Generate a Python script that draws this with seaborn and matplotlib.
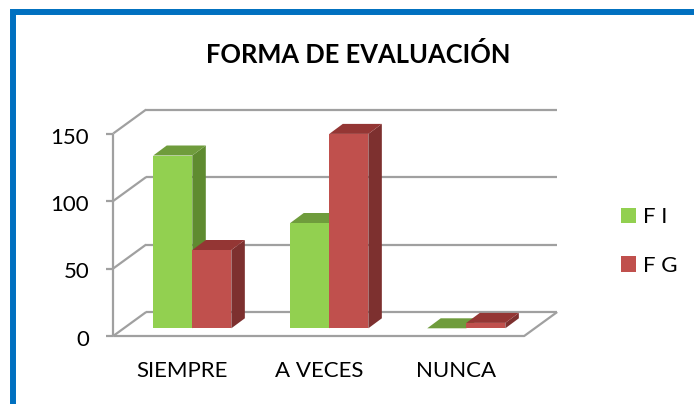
import pandas as pd
import matplotlib
matplotlib.use("Agg")
import matplotlib.pyplot as plt
import seaborn as sns
from matplotlib.patches import Polygon, Patch, Rectangle

# data
categories = ["SIEMPRE", "A VECES", "NUNCA"]
series = ["F I", "F G"]
fi_values = [128, 78, 0]
fg_values = [58, 144, 4]
y_ticks = [0, 50, 100, 150]
title = "FORMA DE EVALUACIÓN"

df = pd.DataFrame({
    "categoria": categories * 2,
    "serie": [series[0]] * len(categories) + [series[1]] * len(categories),
    "valor": fi_values + fg_values,
})

front_colors = {"F I": "#92D050", "F G": "#C0504D"}
side_colors = {"F I": "#5F8B30", "F G": "#7D302F"}
top_colors = {"F I": "#6F9C3C", "F G": "#943634"}
grid_color = "#A0A0A0"

sns.set_style("white")
plt.rcParams["font.family"] = ["Lato", "DejaVu Sans"]
plt.rcParams["text.color"] = "black"

W, H = 694, 404
fig = plt.figure(figsize=(W / 100, H / 100), dpi=100)
# axes box = plane of the bar front faces
ax = fig.add_axes([123.8 / W, (H - 328.3) / H, 411 / W, 202.5 / H])
sns.barplot(data=df, x="categoria", y="valor", hue="serie", order=categories,
            hue_order=series, palette=front_colors, width=0.57, gap=0,
            saturation=1, legend=False, ax=ax)
ax.set_xlim(-0.5, 2.5)
ax.set_ylim(0, 150)
ax.axis("off")

# pixel -> data helpers for the fake 3d offsets
px_x = 411 / 3
px_y = 202.5 / 150
def dx(p):
    return p / px_x
def dy(p):
    return p / px_y

front = (dx(-10.6), dy(-7.7))   # front wall plane
back = (dx(22.4), dy(16.3))     # back wall plane
x0, x1 = -0.5, 2.5

kw = dict(color=grid_color, lw=1.6, clip_on=False, zorder=1, solid_capstyle="butt")
for v in y_ticks:
    ax.plot([x0 + back[0], x1 + back[0]], [v + back[1]] * 2, **kw)
    ax.plot([x0 + front[0], x0 + back[0]], [v + front[1], v + back[1]], **kw)
    ax.plot([x0 + front[0] - dx(7), x0 + front[0]], [v + front[1]] * 2, **kw)
    ax.text(x0 + front[0] - dx(24), v + front[1] - dy(10), str(v),
            ha="right", va="baseline", fontsize=16)
ax.plot([x0 + front[0]] * 2, [front[1], y_ticks[-1] + front[1]], **kw)
ax.plot([x0 + front[0], x1 + front[0], x1 + back[0]],
        [front[1], front[1], back[1]], **kw)

# sides and tops of the bars
depth_x, depth_y = dx(13.5), dy(10)
for k, (container, name) in enumerate(zip(ax.containers, series)):
    for bar in container:
        xa = bar.get_x()
        xb = xa + bar.get_width()
        h = bar.get_height()
        bar.set_zorder(2 + k)
        bar.set_linewidth(0)
        bar.set_clip_on(False)
        side = Polygon([(xb, 0), (xb + depth_x, depth_y), (xb + depth_x, h + depth_y), (xb, h)],
                       closed=True, fc=side_colors[name], lw=0, zorder=2 + k, clip_on=False)
        top = Polygon([(xa, h), (xa + depth_x, h + depth_y), (xb + depth_x, h + depth_y), (xb, h)],
                      closed=True, fc=top_colors[name], lw=0, zorder=2 + k, clip_on=False)
        ax.add_patch(side)
        ax.add_patch(top)

for i, cat in enumerate(categories):
    ax.text(i + front[0], front[1] - dy(41), cat, ha="center", va="baseline", fontsize=16)

handles = [Patch(fc=front_colors[s], lw=0, label=s) for s in series]
fig.legend(handles=handles, loc="upper left", bbox_to_anchor=(621 / W, 1 - 207 / H),
           frameon=False, fontsize=16, handlelength=0.68, handleheight=0.68,
           handletextpad=0.3, labelspacing=1.3, borderpad=0, borderaxespad=0)

fig.text(358 / W, 1 - 63 / H, title, ha="center", va="baseline",
         fontsize=18.4, fontweight="bold")

# blue frame of the chart area
fig.add_artist(Rectangle((13 / W, -0.5), 2, (H - 12) / H + 0.5, transform=fig.transFigure,
                         fill=False, ec="#0070C0", lw=4.3))

fig.savefig("out.png", dpi=100, facecolor="white")
